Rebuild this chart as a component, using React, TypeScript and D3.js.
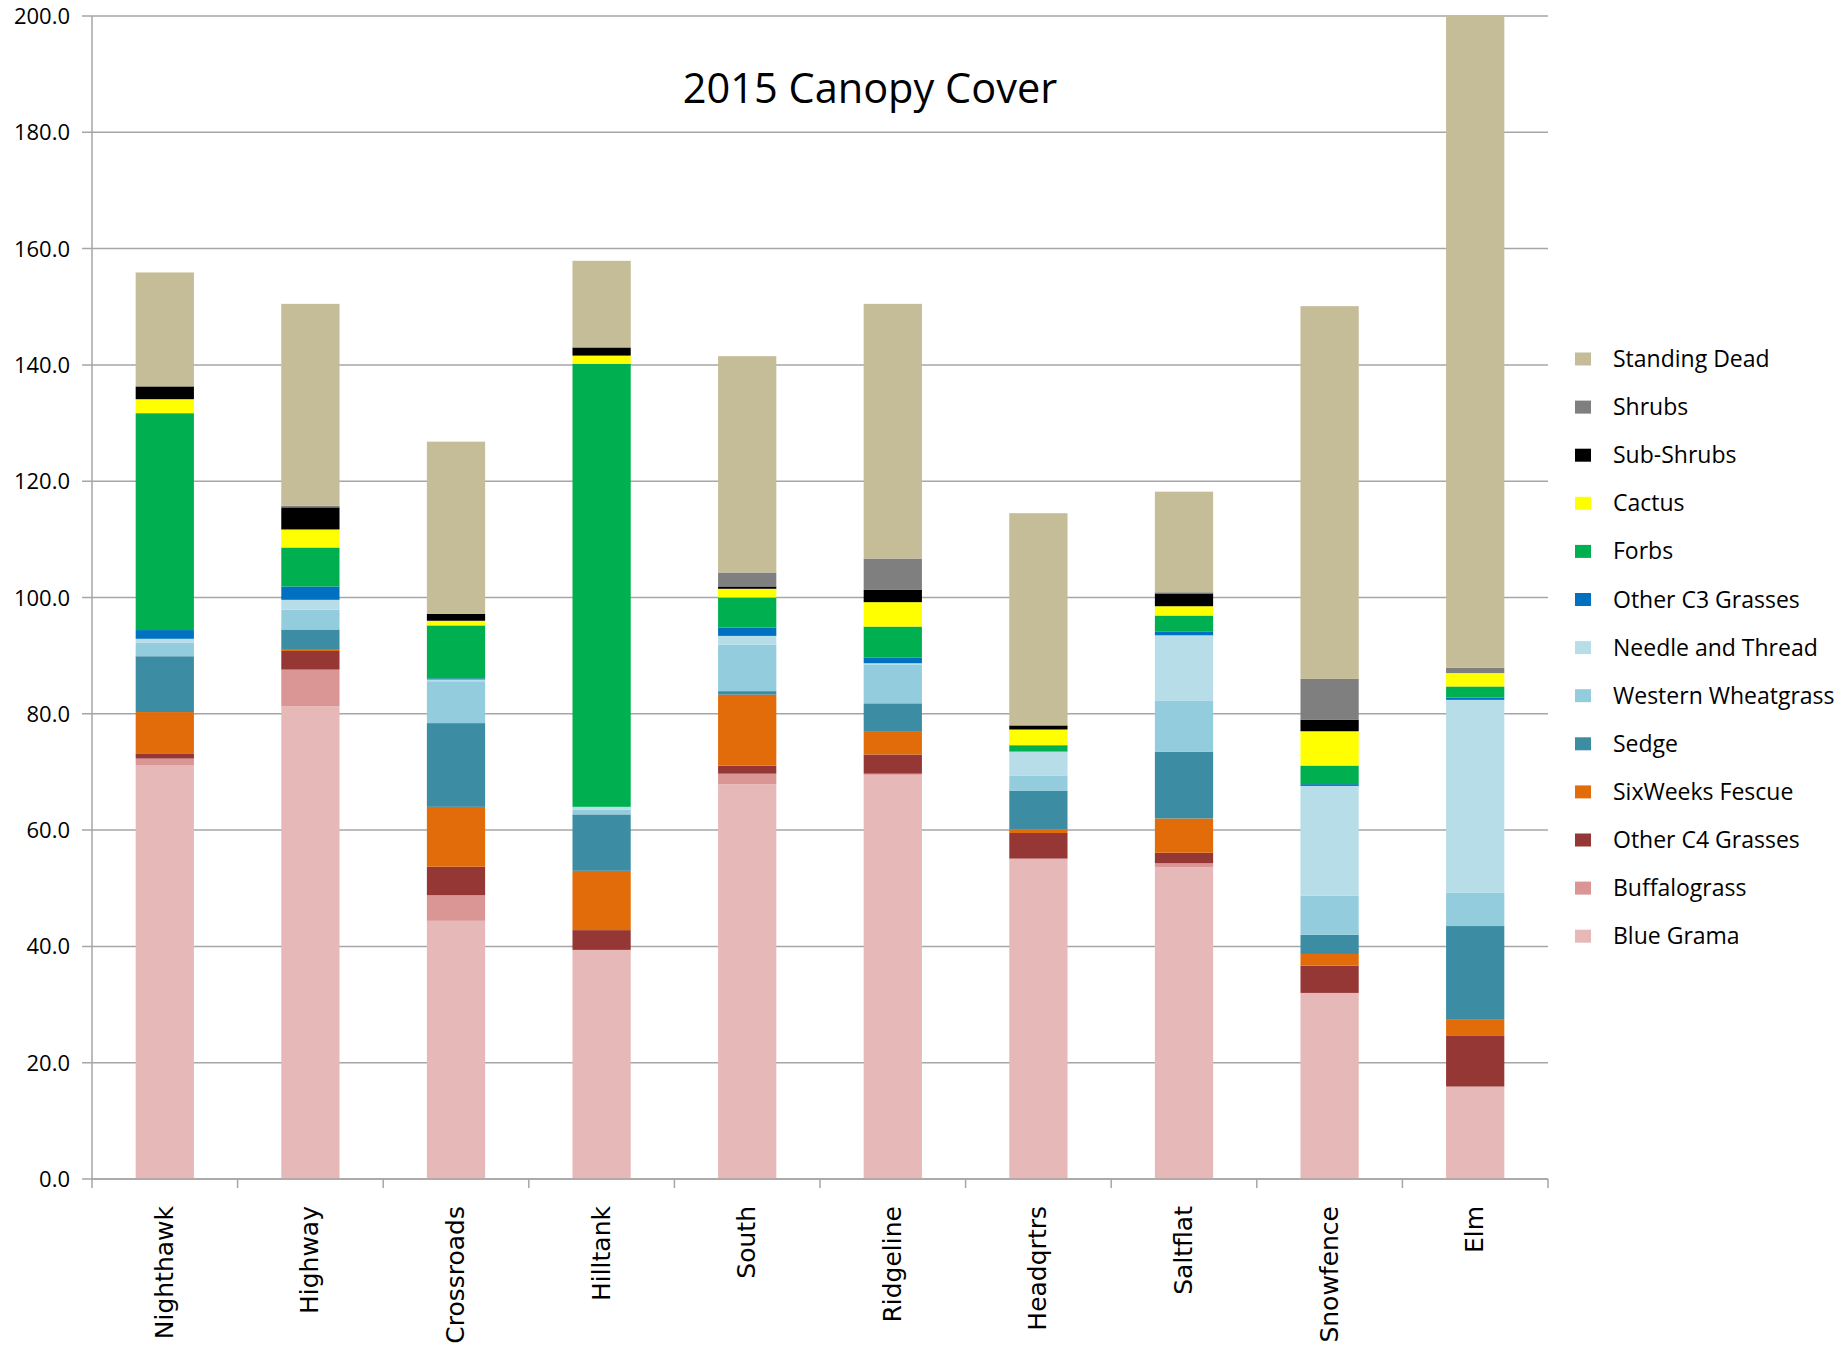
import React from 'react';
import * as d3 from 'd3';

// sites along the x axis
const sites = ['Nighthawk', 'Highway', 'Crossroads', 'Hilltank', 'South', 'Ridgeline', 'Headqrtrs', 'Saltflat', 'Snowfence', 'Elm'];

// series, bottom of the stack first
const groups = ['Blue Grama', 'Buffalograss', 'Other C4 Grasses', 'SixWeeks Fescue', 'Sedge', 'Western Wheatgrass',
    'Needle and Thread', 'Other C3 Grasses', 'Forbs', 'Cactus', 'Sub-Shrubs', 'Shrubs', 'Standing Dead'];

const groupColors = ['#e6b9b8', '#d99694', '#953735', '#e36c0a', '#3c8ca4', '#93cddd',
    '#b7dee8', '#0070c0', '#00b050', '#ffff00', '#000000', '#7f7f7f', '#c4bd97'];

// cover per site, one array per series (same order as sites)
const blueGrama = [71.1, 81.3, 44.4, 39.4, 67.9, 69.5, 55.1, 53.6, 32.0, 15.9];
const buffalograss = [1.2, 6.3, 4.4, 0, 1.8, 0.2, 0, 0.7, 0, 0];
const otherC4 = [0.9, 3.2, 4.9, 3.4, 1.4, 3.3, 4.4, 1.8, 4.7, 8.7];
const sixWeeks = [7.1, 0.2, 10.3, 10.2, 12.2, 3.9, 0.6, 5.9, 2.0, 2.9];
const sedge = [9.6, 3.5, 14.4, 9.7, 0.6, 4.9, 6.7, 11.5, 3.3, 16.0];
const westernWheatgrass = [2.3, 3.4, 7.2, 0.8, 8.0, 6.7, 2.6, 8.8, 6.7, 5.7];
const needleThread = [0.7, 1.7, 0.3, 0.5, 1.5, 0.2, 4.1, 11.2, 18.9, 33.2];
const otherC3 = [1.5, 2.3, 0.2, 0, 1.4, 1.0, 0, 0.6, 0.3, 0.4];
const forbs = [37.3, 6.7, 9.1, 76.2, 5.2, 5.3, 1.1, 2.8, 3.2, 1.9];
const cactus = [2.4, 3.1, 0.8, 1.4, 1.5, 4.2, 2.7, 1.6, 5.9, 2.3];
const subShrubs = [2.2, 3.8, 1.2, 1.4, 0.4, 2.1, 0.7, 2.2, 2.0, 0];
const shrubs = [0, 0.3, 0, 0, 2.4, 5.4, 0, 0.2, 7.0, 0.9];
const standingDead = [19.6, 34.7, 29.6, 14.9, 37.2, 43.8, 36.5, 17.3, 64.1, 112.1];

const yTicks = [0, 20, 40, 60, 80, 100, 120, 140, 160, 180, 200];

const seriesValues = [blueGrama, buffalograss, otherC4, sixWeeks, sedge, westernWheatgrass,
    needleThread, otherC3, forbs, cactus, subShrubs, shrubs, standingDead];

const W = 1847, H = 1349;
const margin = { left: 92, right: 299, top: 16, bottom: 170 };
const gridColor = '#a6a6a6';

export default function App() {
    const rows = sites.map((s, i) => {
        const r: any = { site: s };
        groups.forEach((g, j) => { r[g] = seriesValues[j][i]; });
        return r;
    });
    const stacked = d3.stack().keys(groups)(rows);

    const x = d3.scaleBand().domain(sites).range([margin.left, W - margin.right]);
    const y = d3.scaleLinear().domain([0, 200]).range([H - margin.bottom, margin.top]);
    const bw = x.bandwidth() * 0.4;
    const y0 = y(0);

    const legendTop = 359, legendStep = 48.1;
    const legendItems = groups.map((g, i) => ({ g, c: groupColors[i] })).reverse();

    return (
        <svg width={W} height={H} style={{ position: 'absolute', left: 0, top: 0, background: '#fff' }}>
            {/* gridlines + tick labels */}
            {yTicks.map(t => (
                <g key={t}>
                    <line x1={margin.left - 10} x2={W - margin.right} y1={y(t)} y2={y(t)}
                          stroke={gridColor} strokeWidth={1.5} />
                    <text x={70} y={y(t) + 8} textAnchor="end" fontFamily="Open Sans" fontSize={22}
                          fill="#000">{t.toFixed(1)}</text>
                </g>
            ))}
            <line x1={margin.left} x2={margin.left} y1={margin.top} y2={y0} stroke={gridColor} strokeWidth={1.5} />
            {/* stacked bars */}
            {stacked.map((layer, li) => (
                <g key={groups[li]} fill={groupColors[li]}>
                    {layer.map((d: any) => (
                        d[1] - d[0] > 0 ?
                        <rect key={d.data.site}
                              x={x(d.data.site)! + (x.bandwidth() - bw) / 2}
                              y={y(d[1])}
                              width={bw}
                              height={y(d[0]) - y(d[1])} /> : null
                    ))}
                </g>
            ))}
            {/* x axis */}
            <line x1={margin.left} x2={W - margin.right} y1={y0} y2={y0} stroke={gridColor} strokeWidth={1.5} />
            {sites.map(s => (
                <line key={'t' + s} x1={x(s)!} x2={x(s)!} y1={y0} y2={y0 + 9} stroke={gridColor} strokeWidth={1.5} />
            ))}
            <line x1={W - margin.right} x2={W - margin.right} y1={y0} y2={y0 + 9} stroke={gridColor} strokeWidth={1.5} />
            {sites.map(s => {
                const cx = x(s)! + x.bandwidth() / 2 + 8;
                return (
                    <text key={'l' + s} transform={`translate(${cx},${y0 + 27}) rotate(-90)`}
                          textAnchor="end" fontFamily="DejaVu Sans" fontSize={25} fill="#000">{s}</text>
                );
            })}
            {/* title */}
            <text x={870} y={103} textAnchor="middle" fontFamily="Open Sans" fontSize={41.5} fill="#000">2015 Canopy Cover</text>
            {/* legend */}
            {legendItems.map((it, i) => {
                const cy = legendTop + i * legendStep;
                return (
                    <g key={it.g}>
                        <rect x={1575} y={cy - 6.5} width={16} height={13} fill={it.c} />
                        <text x={1613} y={cy + 8} fontFamily="Open Sans" fontSize={23} fill="#000">{it.g}</text>
                    </g>
                );
            })}
        </svg>
    );
}
